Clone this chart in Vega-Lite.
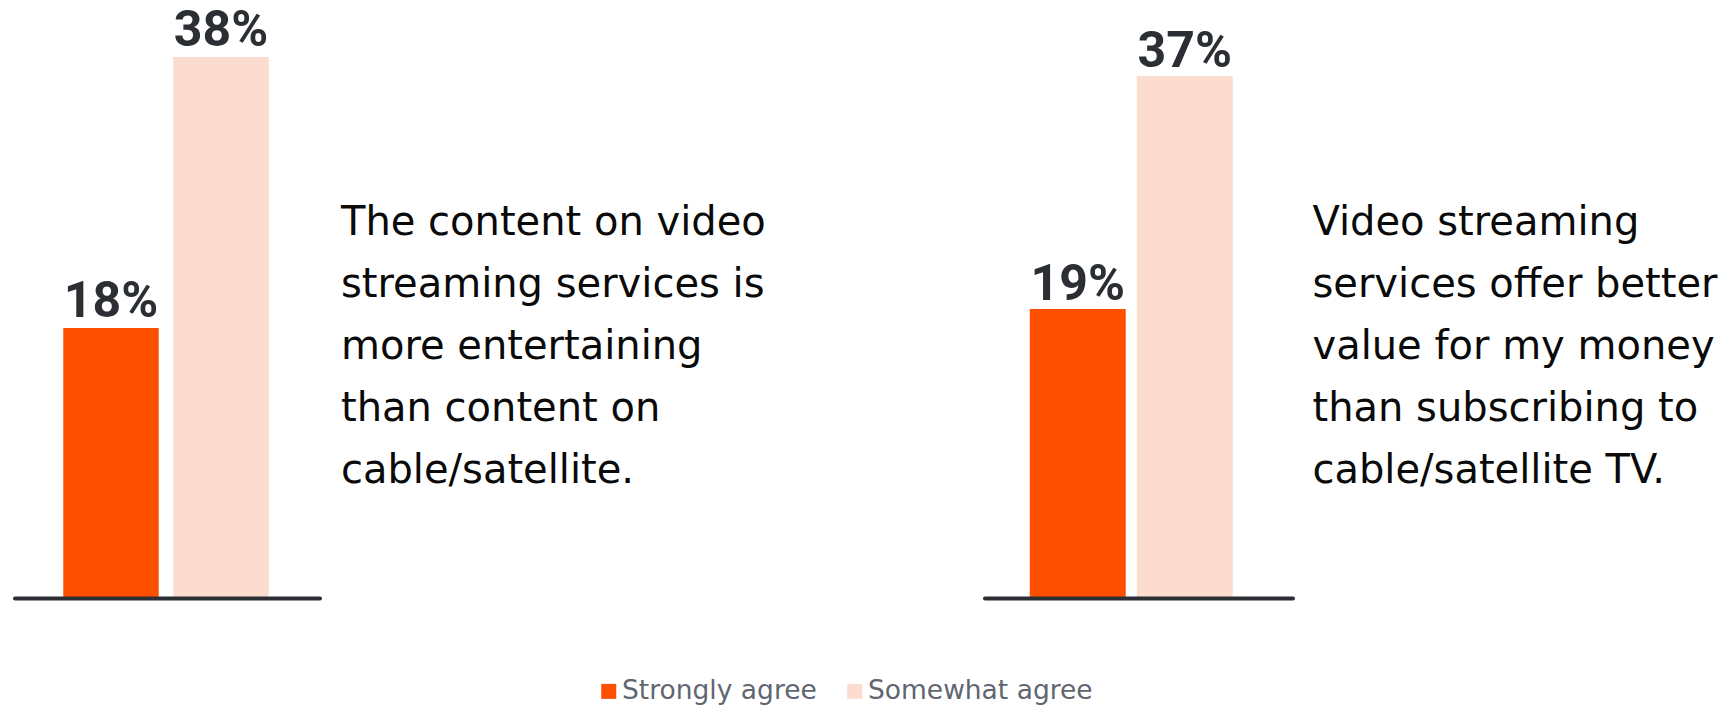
{
  "$schema": "https://vega.github.io/schema/vega-lite/v6.json",
  "background": "white",
  "padding": {"left": 14.5, "top": 0, "right": 0, "bottom": 0},
  "datasets": {
    "d": [
      {"q": "A", "s": "Strongly agree", "v": 0.18},
      {"q": "A", "s": "Somewhat agree", "v": 0.38},
      {"q": "B", "s": "Strongly agree", "v": 0.19},
      {"q": "B", "s": "Somewhat agree", "v": 0.37}
    ]
  },
  "data": {"name": "d"},
  "spacing": 665,
  "bounds": "flush",
  "hconcat": [
    {
      "width": 305,
      "height": 598,
      "title": {
        "text": ["The content on video", "streaming services is", "more entertaining", "than content on", "cable/satellite."],
        "orient": "right",
        "angle": 0,
        "align": "left",
        "baseline": "middle",
        "anchor": "middle",
        "offset": 21,
        "dx": -424.3,
        "dy": -76,
        "font": "DejaVu Sans",
        "fontSize": 40,
        "fontWeight": "normal",
        "color": "#0a0a0a",
        "lineHeight": 62
      },
      "transform": [{"filter": "datum.q === 'A'"}],
      "encoding": {
        "x": {
          "field": "s",
          "type": "nominal",
          "sort": ["Strongly agree", "Somewhat agree"],
          "scale": {"paddingInner": 0.132, "paddingOuter": 0.4525, "align": 0.49},
          "axis": {"title": null, "labels": false, "ticks": false, "grid": false, "domain": true, "domainColor": "#2b2e33", "domainWidth": 4, "domainCap": "round", "zindex": 1}
        },
        "y": {
          "field": "v",
          "type": "quantitative",
          "scale": {"domain": [-0.0193, 0.422], "zero": false, "nice": false},
          "axis": null
        }
      },
      "layer": [
        {
          "mark": {"type": "bar"},
          "encoding": {
            "y2": {"datum": -0.0193},
            "color": {
              "field": "s",
              "type": "nominal",
              "scale": {"domain": ["Strongly agree", "Somewhat agree"], "range": ["#FF5000", "#FDDCD0"]},
              "legend": {
                "title": null,
                "orient": "none",
                "direction": "horizontal",
                "legendX": 581,
                "legendY": 678,
                "symbolType": "square",
                "symbolSize": 225,
                "symbolStrokeWidth": 0,
                "labelFont": "DejaVu Sans",
                "labelFontSize": 26.5,
                "labelLimit": 400,
                "labelColor": "#5f6670",
                "labelOffset": 0,
                "columnPadding": 24
              }
            }
          }
        },
        {
          "mark": {"type": "text", "font": "Roboto", "fontWeight": "bold", "fontSize": 50, "color": "#2b2e33", "baseline": "alphabetic", "dy": -11},
          "encoding": {"text": {"field": "v", "type": "quantitative", "format": ".0%"}}
        }
      ]
    },
    {
      "width": 308,
      "height": 598,
      "title": {
        "text": ["Video streaming", "services offer better", "value for my money", "than subscribing to", "cable/satellite TV."],
        "orient": "right",
        "angle": 0,
        "align": "left",
        "baseline": "middle",
        "anchor": "middle",
        "offset": 20,
        "dx": -405.1,
        "dy": -76,
        "font": "DejaVu Sans",
        "fontSize": 40,
        "fontWeight": "normal",
        "color": "#0a0a0a",
        "lineHeight": 62
      },
      "transform": [{"filter": "datum.q === 'B'"}],
      "encoding": {
        "x": {
          "field": "s",
          "type": "nominal",
          "sort": ["Strongly agree", "Somewhat agree"],
          "scale": {"paddingInner": 0.103, "paddingOuter": 0.491, "align": 0.431},
          "axis": {"title": null, "labels": false, "ticks": false, "grid": false, "domain": true, "domainColor": "#2b2e33", "domainWidth": 4, "domainCap": "round", "zindex": 1}
        },
        "y": {
          "field": "v",
          "type": "quantitative",
          "scale": {"domain": [-0.0333, 0.4288], "zero": false, "nice": false},
          "axis": null
        }
      },
      "layer": [
        {
          "mark": {"type": "bar"},
          "encoding": {
            "y2": {"datum": -0.0333},
            "color": {
              "field": "s",
              "type": "nominal",
              "scale": {"domain": ["Strongly agree", "Somewhat agree"], "range": ["#FF5000", "#FDDCD0"]}
            }
          }
        },
        {
          "mark": {"type": "text", "font": "Roboto", "fontWeight": "bold", "fontSize": 50, "color": "#2b2e33", "baseline": "alphabetic", "dy": -9},
          "encoding": {"text": {"field": "v", "type": "quantitative", "format": ".0%"}}
        }
      ]
    }
  ],
  "resolve": {"scale": {"x": "independent", "y": "independent", "color": "shared"}},
  "config": {"view": {"stroke": null}}
}
